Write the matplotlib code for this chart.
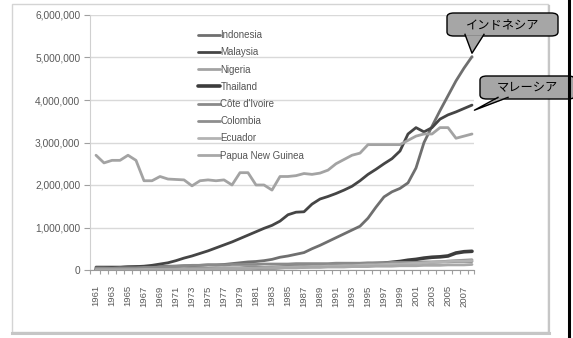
import matplotlib.pyplot as plt
import matplotlib.ticker as mticker
from matplotlib.patches import FancyBboxPatch, Polygon, Rectangle
from matplotlib.lines import Line2D

plt.rcParams['font.family'] = ['Liberation Sans', 'Noto Sans CJK JP', 'DejaVu Sans']

years = list(range(1961, 2009))

# oil palm area harvested (ha)
indonesia = [0.07, 0.07, 0.07, 0.07, 0.08, 0.08, 0.08, 0.08, 0.08, 0.09,
             0.09, 0.10, 0.10, 0.11, 0.12, 0.12, 0.13, 0.15, 0.17, 0.19,
             0.20, 0.22, 0.25, 0.30, 0.33, 0.37, 0.41, 0.50, 0.58, 0.67,
             0.76, 0.85, 0.94, 1.03, 1.22, 1.48, 1.72, 1.84, 1.92, 2.05,
             2.40, 3.00, 3.38, 3.75, 4.10, 4.45, 4.75, 5.02]
malaysia = [0.05, 0.05, 0.06, 0.06, 0.07, 0.08, 0.09, 0.11, 0.14, 0.17,
            0.22, 0.28, 0.33, 0.39, 0.45, 0.52, 0.59, 0.66, 0.74, 0.82,
            0.90, 0.98, 1.05, 1.15, 1.30, 1.36, 1.37, 1.55, 1.67, 1.73,
            1.80, 1.88, 1.97, 2.10, 2.25, 2.37, 2.50, 2.62, 2.80, 3.20,
            3.35, 3.25, 3.35, 3.55, 3.65, 3.72, 3.80, 3.88]
nigeria = [2.70, 2.52, 2.58, 2.58, 2.70, 2.58, 2.10, 2.10, 2.20, 2.14,
           2.13, 2.12, 1.98, 2.10, 2.12, 2.10, 2.12, 2.00, 2.29, 2.29,
           2.00, 2.00, 1.88, 2.20, 2.20, 2.22, 2.27, 2.25, 2.28, 2.35,
           2.50, 2.60, 2.70, 2.75, 2.95, 2.95, 2.95, 2.95, 2.95, 3.05,
           3.15, 3.20, 3.20, 3.35, 3.35, 3.10, 3.15, 3.20]
thailand = [0.01, 0.01, 0.01, 0.01, 0.01, 0.01, 0.01, 0.01, 0.01, 0.01,
            0.01, 0.01, 0.02, 0.02, 0.02, 0.02, 0.03, 0.03, 0.03, 0.04,
            0.04, 0.05, 0.05, 0.06, 0.07, 0.07, 0.08, 0.09, 0.09, 0.10,
            0.11, 0.12, 0.12, 0.13, 0.14, 0.15, 0.16, 0.18, 0.20, 0.23,
            0.25, 0.28, 0.30, 0.31, 0.33, 0.40, 0.43, 0.44]
cote_divoire = [0.04, 0.04, 0.04, 0.05, 0.05, 0.05, 0.06, 0.06, 0.07, 0.08,
                0.09, 0.10, 0.11, 0.11, 0.12, 0.12, 0.12, 0.13, 0.13, 0.13,
                0.13, 0.14, 0.14, 0.14, 0.14, 0.15, 0.15, 0.15, 0.15, 0.15,
                0.16, 0.16, 0.16, 0.16, 0.17, 0.17, 0.17, 0.18, 0.18, 0.18,
                0.18, 0.19, 0.19, 0.19, 0.19, 0.20, 0.20, 0.20]
colombia = [0.01, 0.01, 0.01, 0.01, 0.01, 0.02, 0.02, 0.02, 0.02, 0.03,
            0.03, 0.03, 0.04, 0.04, 0.04, 0.05, 0.05, 0.05, 0.05, 0.06,
            0.06, 0.06, 0.07, 0.07, 0.08, 0.08, 0.09, 0.09, 0.10, 0.10,
            0.11, 0.11, 0.12, 0.12, 0.13, 0.13, 0.14, 0.14, 0.15, 0.15,
            0.16, 0.17, 0.18, 0.19, 0.21, 0.22, 0.23, 0.24]
ecuador = [0.00, 0.00, 0.00, 0.00, 0.00, 0.00, 0.01, 0.01, 0.01, 0.01,
           0.01, 0.02, 0.02, 0.02, 0.02, 0.03, 0.03, 0.03, 0.04, 0.04,
           0.04, 0.05, 0.05, 0.06, 0.06, 0.07, 0.07, 0.08, 0.08, 0.09,
           0.09, 0.10, 0.10, 0.11, 0.12, 0.12, 0.13, 0.14, 0.14, 0.15,
           0.16, 0.17, 0.18, 0.19, 0.20, 0.21, 0.21, 0.22]
papua_new_guinea = [0.00, 0.00, 0.00, 0.00, 0.00, 0.00, 0.00, 0.00, 0.01, 0.01,
                    0.01, 0.01, 0.02, 0.02, 0.02, 0.02, 0.03, 0.03, 0.03, 0.03,
                    0.04, 0.04, 0.04, 0.05, 0.05, 0.05, 0.06, 0.06, 0.06, 0.07,
                    0.07, 0.07, 0.08, 0.08, 0.08, 0.09, 0.09, 0.09, 0.10, 0.10,
                    0.10, 0.11, 0.11, 0.11, 0.12, 0.12, 0.12, 0.13]

series = [
    ('Indonesia', indonesia, '#6f6f6f', 2.0),
    ('Malaysia', malaysia, '#454545', 2.0),
    ('Nigeria', nigeria, '#a3a3a3', 2.0),
    ('Thailand', thailand, '#3c3c3c', 2.6),
    ("Côte d'Ivoire", cote_divoire, '#8a8a8a', 2.0),
    ('Colombia', colombia, '#8e8e8e', 2.0),
    ('Ecuador', ecuador, '#b3b3b3', 2.0),
    ('Papua New Guinea', papua_new_guinea, '#a8a8a8', 2.0),
]

W, H = 573, 338
fig = plt.figure(figsize=(W / 100, H / 100), dpi=100)
fig.patch.set_facecolor('white')

def px(x, y):
    # pixel position (top-left origin) -> figure fraction
    return x / W, 1 - y / H

# chart frame with a soft shadow
fig.patches.append(Rectangle(px(12, 332), 536 / W, 328 / H, transform=fig.transFigure,
                             fill=False, edgecolor='#d4d4d4', linewidth=1.0, zorder=0))
fig.add_artist(Line2D([12 / W, 549 / W], [1 - 333 / H] * 2, color='#c6c6c6', linewidth=2.2))
fig.add_artist(Line2D([549 / W] * 2, [1 - 6 / H, 1 - 333 / H], color='#c6c6c6', linewidth=1.6))

ax = fig.add_axes([90 / W, 1 - 270 / H, 384 / W, 255 / H])
ax.set_facecolor('none')

for name, vals, color, lw in series:
    ax.plot(years, [v * 1e6 for v in vals], color=color, linewidth=lw, label=name,
            solid_joinstyle='round', solid_capstyle='round')

ax.set_ylim(0, 6e6)
ax.set_xlim(1960.25, 2008.25)
ax.yaxis.set_major_locator(mticker.MultipleLocator(1e6))
ax.yaxis.set_major_formatter(mticker.FuncFormatter(lambda v, p: f'{int(v):,}'))
ax.grid(axis='y', color='#d9d9d9', linewidth=1.0)
ax.set_axisbelow(True)

ax.set_xticks(years[::2])
ax.set_xticklabels([str(y) for y in years[::2]], rotation=90, fontsize=6.8, color='#595959')
ax.set_xticks([y + 0.5 for y in years[:-1]] + [1960.25, 2008.25], minor=True)
ax.tick_params(axis='x', which='major', length=0, pad=11)
ax.tick_params(axis='x', which='minor', length=3, color='#a0a0a0', width=0.8)
ax.tick_params(axis='y', labelsize=7.3, colors='#595959', length=4, width=0.8, pad=3)
ax.tick_params(axis='y', color='#a0a0a0')

for side in ('top', 'right'):
    ax.spines[side].set_visible(False)
ax.spines['left'].set_color('#d0d0d0')
ax.spines['bottom'].set_color('#999999')

leg = ax.legend(loc='upper left', bbox_to_anchor=(0.28, 0.94), frameon=False,
                fontsize=7, labelspacing=0.74, handlelength=2.3, handletextpad=0.05,
                borderpad=0, borderaxespad=0)
for t in leg.get_texts():
    t.set_color('#555555')

fig.canvas.draw()

def callout(label, year, value, box, base):
    # box = (x0, y0, x1, y1) and base = (xa, xb) in pixels, tip anchored on the data point
    tx, ty = ax.transData.transform((year, value * 1e6))
    tip = (tx / W, ty / H)
    x0, y0, x1, y1 = box
    fb = FancyBboxPatch(px(x0, y1), (x1 - x0) / W, (y1 - y0) / H,
                        boxstyle='round,pad=0,rounding_size=0.012', transform=fig.transFigure,
                        facecolor='#a6a6a6', edgecolor='black', linewidth=1.0, zorder=5)
    fig.patches.append(fb)
    xa, xb = base
    pa = px(xa, y1 - 0.8)
    pb = px(xb, y1 - 0.8)
    fig.patches.append(Polygon([pa, tip, pb], closed=True, transform=fig.transFigure,
                               facecolor='#a6a6a6', edgecolor='none', zorder=6))
    fig.add_artist(Line2D([pa[0], tip[0], pb[0]], [pa[1] + 0.0025, tip[1], pb[1] + 0.0025],
                          color='black', linewidth=1.0, zorder=7))
    cx, cy = px((x0 + x1) / 2, (y0 + y1) / 2)
    fig.text(cx, cy, label, ha='center', va='center', fontsize=8.8, color='black',
             family=['Noto Sans CJK JP', 'DejaVu Sans'], zorder=8)

callout('インドネシア', 2008, indonesia[-1] + 0.08, (447, 13, 558, 36), (465, 484))
callout('マレーシア', 2008.3, malaysia[-1] - 0.12, (480, 76, 575, 99), (498, 508))

# vertical rule on the right edge
fig.add_artist(Line2D([569 / W] * 2, [0, 1], color='black', linewidth=2.2, zorder=9))

fig.savefig('out.png', dpi=100)
